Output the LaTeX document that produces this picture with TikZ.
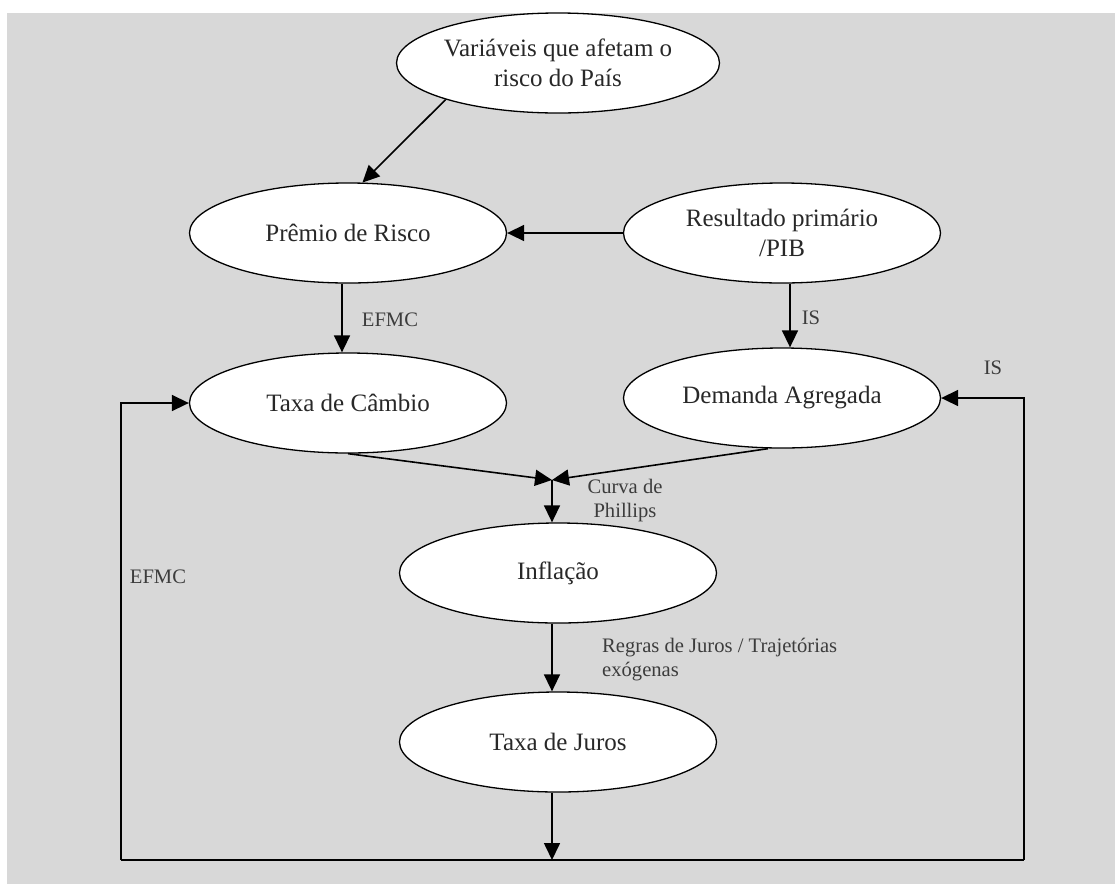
\documentclass[tikz,border=0pt]{standalone}
\usepackage{fontspec}
\setmainfont{Liberation Serif}
\usetikzlibrary{shapes.geometric,arrows.meta}
\definecolor{bgc}{RGB}{216,216,216}
\definecolor{txt}{RGB}{40,40,40}
\definecolor{lbl}{RGB}{60,60,60}
\tikzset{
  oval/.style={ellipse, draw=black, line width=1.3pt, fill=white, minimum width=317pt, minimum height=100pt, inner sep=0pt, align=center, text=txt, font=\fontsize{25}{30}\selectfont},
  lab/.style={text=lbl, font=\fontsize{20.6}{24}\selectfont, inner sep=0pt},
  conn/.style={line width=1.6pt, draw=black},
  arr/.style={conn, -{Triangle[length=17pt,width=16pt]}},
}
\begin{document}
\begin{tikzpicture}[x=1pt,y=-1pt]
\useasboundingbox (0,0) rectangle (1115,884);
\fill[bgc] (7,13) rectangle (1115,884);

\node[oval] (var) at (558,63) {Variáveis que afetam o\\risco do País};
\node[oval] (pre) at (348,233) {Prêmio de Risco};
\node[oval] (res) at (782,233) {Resultado primário\\/PIB};
\node[oval] (cam) at (348,403) {Taxa de Câmbio};
\node[oval] (dem) at (782,398) {Demanda Agregada};
\node[oval] (inf) at (558,573) {Inflação};
\node[oval] (jur) at (558,742) {Taxa de Juros};

\coordinate (j) at (552,480);
\coordinate (b) at (552,860);
\coordinate (bl) at (121,860);
\coordinate (br) at (1024,860);

\draw[arr] (var.198) -- (pre.74);
\draw[arr] (res.west) -- (pre.east);
\draw[arr] ([xshift=-6pt]pre.south) -- ([xshift=-6pt]cam.north);
\draw[arr] ([xshift=8pt]res.south) -- ([xshift=8pt]dem.north);
\draw[arr] (cam.south) -- (j);
\draw[arr] ([xshift=-14pt]dem.south) -- (j);
\draw[arr] (j) -- (j |- inf.north);
\draw[arr] ([xshift=-6pt]inf.south) -- ([xshift=-6pt]jur.north);
\draw[arr] ([xshift=-6pt]jur.south) -- (b);
\draw[conn] (bl) -- (br);
\draw[arr] (bl) |- (cam.west);
\draw[arr] (br) |- (dem.east);

\node[lab] (l1) at (390,320) {EFMC};
\node[lab] (l2) at (811,318) {IS};
\node[lab] (l3) at (993,368) {IS};
\node[lab] (l4) at (158,577) {EFMC};
\node[lab, align=center] (l5) at (625,501) {Curva de\\Phillips};
\node[lab, align=left, anchor=west] (l6) at (602,660) {Regras de Juros / Trajetórias\\exógenas};
\end{tikzpicture}
\end{document}
